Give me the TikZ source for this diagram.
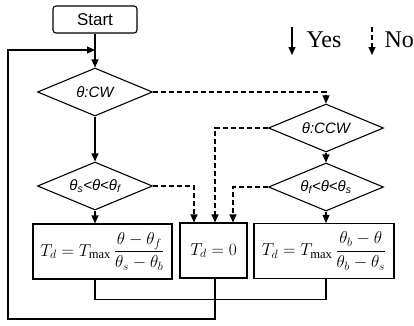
\documentclass[tikz,border=0pt]{standalone}
\usepackage{amsmath}
\usepackage{fontspec}
\setmainfont{Liberation Serif}
\newfontfamily\arial{Liberation Sans}
\usetikzlibrary{arrows.meta, shapes.geometric}

\begin{document}
\begin{tikzpicture}[x=1pt,y=-1pt,line width=1.1pt,
  tip/.style={-{Triangle[length=8pt,width=7pt]}},
  no/.style={tip,dash pattern=on 5pt off 3pt},
  test/.style={diamond,draw,inner sep=0pt,aspect=2.4,minimum width=115pt,minimum height=48pt,font=\arial\itshape\fontsize{15}{17}\selectfont},
  calc/.style={rectangle,draw,inner sep=0pt,minimum height=55pt,font=\fontsize{18}{20}\selectfont}]
  \useasboundingbox (0,0) rectangle (414,325);
  \node[draw,rounded corners=3pt,minimum width=84pt,minimum height=27pt,font=\arial\fontsize{17}{19}\selectfont](start) at (95,19.5){Start};
  \node[test](cw) at (95,92){θ:CW};
  \node[test](ccw) at (326,128){θ:CCW};
  \node[test](dl) at (95,186){θ\textsubscript{s}<θ<θ\textsubscript{f}};
  \node[test](dr) at (326,187){θ\textsubscript{f}<θ<θ\textsubscript{s}};
  \node[calc,minimum width=139pt](boxL) at (102.5,251.5){$T_d = T_{\max}\,\dfrac{\theta-\theta_f}{\theta_s-\theta_b}$};
  \node[calc,minimum width=67pt](boxM) at (213.5,250.5){$T_d = 0$};
  \node[calc,minimum width=140pt](boxR) at (324,251){$T_d = T_{\max}\,\dfrac{\theta_b-\theta}{\theta_b-\theta_s}$};
  \coordinate (entry) at (95,50);
  \coordinate (corner) at (8,319);
  \draw[tip](start)--(cw);
  \draw[tip](cw)--(dl);
  \draw[tip](ccw)--(dr);
  \draw[tip](dl.south)--(dl.south|-boxL.north);
  \draw[tip](dr.south)--(dr.south|-boxR.north);
  \draw[no](cw.east)-|(ccw.north);
  \draw[no](dl.east)-|([xshift=-19.5]boxM.north);
  \draw[no](ccw.west)-|([xshift=1.5]boxM.north);
  \draw[no](dr.west)-|([xshift=19.5]boxM.north);
  \draw(dl.south|-boxL.south)--++(0,20)-|(dr.south|-boxR.south);
  \draw[tip]([xshift=1.5]boxM.south)|-(corner)|-(entry);
  \coordinate (yesA) at (292,27);
  \coordinate (yesB) at (292,55);
  \coordinate (noA) at (372,27);
  \coordinate (noB) at (372,55);
  \draw[tip](yesA)--(yesB);
  \draw[no](noA)--(noB);
  \node[anchor=west,inner sep=0pt,font=\fontsize{24}{26}\selectfont](yes) at (306,40){Yes};
  \node[anchor=west,inner sep=0pt,font=\fontsize{24}{26}\selectfont](nolbl) at (384,40){No};
\end{tikzpicture}
\end{document}
